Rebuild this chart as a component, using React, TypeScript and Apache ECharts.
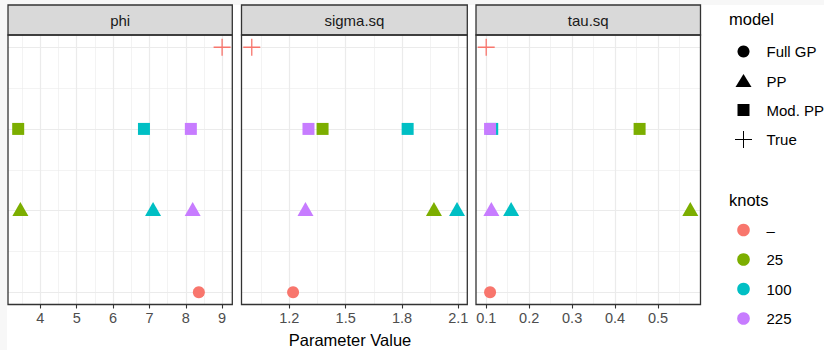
import React, { useEffect, useRef } from 'react';
import * as echarts from 'echarts';

// ---- data ----
const params = ['phi', 'sigma.sq', 'tau.sq'];
const knotLevels = ['–', '25', '100', '225'];
const knotColors = ['#F8766D', '#7CAE00', '#00BFC4', '#C77CFF'];
const modelLevels = ['Full GP', 'PP', 'Mod. PP', 'True'];
const modelRows = [1, 2, 3, 4];

const trueValues = [9.0, 1.0, 0.1];
const fullGP = [8.36, 1.22, 0.109];
const pp25 = [3.45, 1.97, 0.575];
const pp100 = [7.1, 2.093, 0.158];
const pp225 = [8.19, 1.286, 0.112];
const modPP25 = [3.39, 1.377, 0.457];
const modPP100 = [6.85, 1.83, 0.114];
const modPP225 = [8.14, 1.302, 0.109];

const xTicks = [
  [4, 5, 6, 7, 8, 9],
  [1.2, 1.5, 1.8, 2.1],
  [0.1, 0.2, 0.3, 0.4, 0.5],
];
const xMinorTicks = [
  [3.5, 4.5, 5.5, 6.5, 7.5, 8.5],
  [1.05, 1.35, 1.65, 1.95],
  [0.15, 0.25, 0.35, 0.45, 0.55],
];
const yMajor = [1, 2, 3, 4];
const yMinor = [1.5, 2.5, 3.5];

// ---- layout ----
const FONT = "'Liberation Sans', Arial, Helvetica, sans-serif";
const panelLeft = [8, 241.5, 476];
const panelWidth = [224.3, 225.8, 224.5];
const panelTop = 35;
const panelHeight = 269.5;
const stripTop = 5;
const crossPath = 'path://M0,9L18,9M9,0L9,18';

function extent(vals: number[]) {
  const mn = Math.min(...vals);
  const mx = Math.max(...vals);
  const r = mx - mn;
  return [mn - 0.05 * r, mx + 0.05 * r];
}

export default function App() {
  const ref = useRef<HTMLDivElement>(null);
  useEffect(() => {
    const chart = echarts.init(ref.current!, null, { renderer: 'svg' });

    const ppByKnot = [null, pp25, pp100, pp225];
    const modByKnot = [null, modPP25, modPP100, modPP225];

    const grids: any[] = [];
    const xAxes: any[] = [];
    const yAxes: any[] = [];
    const series: any[] = [];
    const graphics: any[] = [];

    params.forEach((p, i) => {
      const vals = [trueValues[i], fullGP[i], pp25[i], pp100[i], pp225[i], modPP25[i], modPP100[i], modPP225[i]];
      const [mn, mx] = extent(vals);
      grids.push({
        left: panelLeft[i], top: panelTop, width: panelWidth[i], height: panelHeight,
        show: true, backgroundColor: '#FFFFFF', borderWidth: 0, containLabel: false, outerBoundsMode: 'none',
      });
      xAxes.push({
        type: 'value', gridIndex: i, min: mn, max: mx,
        axisLine: { show: false },
        splitLine: { show: false },
        axisTick: { show: true, customValues: xTicks[i], length: 4, lineStyle: { color: '#333333', width: 1.1 } },
        axisLabel: {
          show: true, customValues: xTicks[i], color: '#4D4D4D', fontSize: 14.5, margin: 6, fontFamily: FONT,
          formatter: (v: number) => String(Number(v.toFixed(3))),
        },
      });
      yAxes.push({
        type: 'value', gridIndex: i, min: 0.85, max: 4.15,
        axisLine: { show: false }, axisTick: { show: false }, axisLabel: { show: false }, splitLine: { show: false },
      });

      const mlData: any[] = [];
      xMinorTicks[i].forEach((v) => mlData.push({ xAxis: v, lineStyle: { color: '#EBEBEB', width: 0.6, type: 'solid' } }));
      yMinor.forEach((v) => mlData.push({ yAxis: v, lineStyle: { color: '#EBEBEB', width: 0.6, type: 'solid' } }));
      xTicks[i].forEach((v) => mlData.push({ xAxis: v, lineStyle: { color: '#EBEBEB', width: 1.2, type: 'solid' } }));
      yMajor.forEach((v) => mlData.push({ yAxis: v, lineStyle: { color: '#EBEBEB', width: 1.2, type: 'solid' } }));
      series.push({
        type: 'scatter', xAxisIndex: i, yAxisIndex: i, z: 1, silent: true,
        data: [[mn, 0.85]], symbolSize: 0, itemStyle: { opacity: 0 },
        markLine: { z: 1, silent: true, symbol: ['none', 'none'], label: { show: false }, emphasis: { disabled: true }, data: mlData },
      });

      knotLevels.forEach((k, ki) => {
        const color = knotColors[ki];
        const data: any[] = [];
        if (ki === 0) {
          data.push({ value: [fullGP[i], modelRows[0]], symbol: 'circle', symbolSize: 12 });
          data.push({
            value: [trueValues[i], modelRows[3]], symbol: crossPath, symbolSize: 17,
            itemStyle: { color: 'transparent', borderColor: color, borderWidth: 1.3 },
          });
        } else {
          data.push({ value: [ppByKnot[ki]![i], modelRows[1]], symbol: 'triangle', symbolSize: [16, 14], symbolOffset: [0, -1.5] });
          data.push({ value: [modByKnot[ki]![i], modelRows[2]], symbol: 'rect', symbolSize: 12 });
        }
        series.push({
          type: 'scatter', name: k, xAxisIndex: i, yAxisIndex: i, z: 10, clip: false,
          itemStyle: { color, opacity: 1 }, emphasis: { disabled: true }, data,
        });
      });

      // strip
      graphics.push({
        type: 'rect', z: 50,
        shape: { x: panelLeft[i], y: stripTop, width: panelWidth[i], height: panelTop - stripTop },
        style: { fill: '#D9D9D9', stroke: '#333333', lineWidth: 1.3 },
      });
      graphics.push({
        type: 'text', z: 51, x: panelLeft[i] + panelWidth[i] / 2, y: 20.5,
        style: { text: p, fill: '#1A1A1A', fontSize: 15, fontFamily: FONT, align: 'center', verticalAlign: 'middle' },
      });
      // panel border
      graphics.push({
        type: 'rect', z: 50,
        shape: { x: panelLeft[i], y: panelTop, width: panelWidth[i], height: panelHeight },
        style: { fill: 'none', stroke: '#333333', lineWidth: 1.3 },
      });
    });

    // axis title
    graphics.push({
      type: 'text', z: 51, x: 350, y: 340,
      style: { text: 'Parameter Value', fill: '#000000', fontSize: 16.5, fontFamily: FONT, align: 'center', verticalAlign: 'middle' },
    });

    // legends
    const lx = 743.5;
    const tx = 766.5;
    graphics.push({ type: 'text', z: 51, x: 729, y: 19, style: { text: 'model', fill: '#000', fontSize: 16.5, fontFamily: FONT, verticalAlign: 'middle' } });
    const modelY = [51.5, 81, 110, 139.5];
    graphics.push({ type: 'circle', z: 51, shape: { cx: lx, cy: modelY[0], r: 6 }, style: { fill: '#000' } });
    graphics.push({ type: 'polygon', z: 51, shape: { points: [[lx, modelY[1] - 7], [lx - 8, modelY[1] + 6], [lx + 8, modelY[1] + 6]] }, style: { fill: '#000' } });
    graphics.push({ type: 'rect', z: 51, shape: { x: lx - 6, y: modelY[2] - 6, width: 12, height: 12 }, style: { fill: '#000' } });
    graphics.push({ type: 'line', z: 51, shape: { x1: lx - 8.5, y1: modelY[3], x2: lx + 8.5, y2: modelY[3] }, style: { stroke: '#000', lineWidth: 1 } });
    graphics.push({ type: 'line', z: 51, shape: { x1: lx, y1: modelY[3] - 8.5, x2: lx, y2: modelY[3] + 8.5 }, style: { stroke: '#000', lineWidth: 1 } });
    modelLevels.forEach((m, j) => {
      graphics.push({ type: 'text', z: 51, x: tx, y: modelY[j], style: { text: m, fill: '#000', fontSize: 15, fontFamily: FONT, verticalAlign: 'middle' } });
    });

    graphics.push({ type: 'text', z: 51, x: 729, y: 200, style: { text: 'knots', fill: '#000', fontSize: 16.5, fontFamily: FONT, verticalAlign: 'middle' } });
    const knotY = [230, 259.5, 289, 318.5];
    knotLevels.forEach((k, j) => {
      graphics.push({ type: 'circle', z: 51, shape: { cx: lx, cy: knotY[j], r: 6.3 }, style: { fill: knotColors[j] } });
      graphics.push({ type: 'text', z: 51, x: tx, y: knotY[j], style: { text: k, fill: '#000', fontSize: 15, fontFamily: FONT, verticalAlign: 'middle' } });
    });

    // page backdrop
    graphics.push({ type: 'rect', z: -10, shape: { x: 7, y: 5, width: 817, height: 345 }, style: { fill: '#FFFFFF' } });

    chart.setOption({
      animation: false,
      backgroundColor: '#F7F7F7',
      textStyle: { fontFamily: FONT },
      grid: grids,
      xAxis: xAxes,
      yAxis: yAxes,
      series,
      graphic: graphics,
    });
    return () => chart.dispose();
  }, []);
  return <div ref={ref} style={{ position: 'absolute', left: 0, top: 0, width: 824, height: 350 }} />;
}
